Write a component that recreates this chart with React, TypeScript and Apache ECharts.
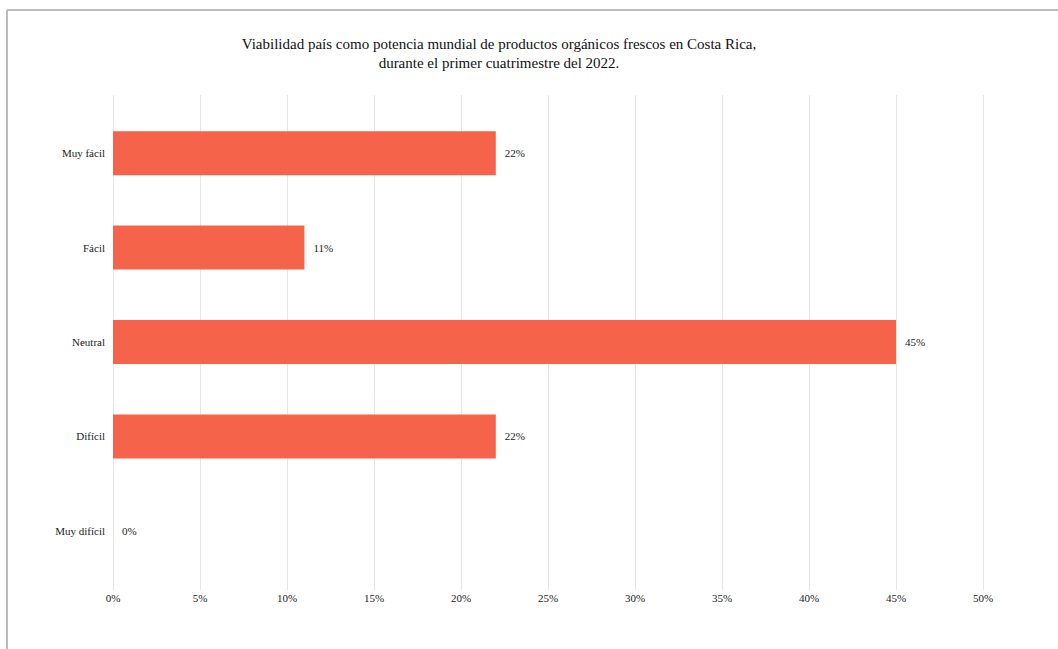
import React, { useEffect, useRef } from "react";
import * as echarts from "echarts";

const categories = ["Muy fácil", "Fácil", "Neutral", "Difícil", "Muy difícil"];
const values = [22, 11, 45, 22, 0];
const xTicks = [0, 5, 10, 15, 20, 25, 30, 35, 40, 45, 50];
const titleText =
  "Viabilidad país como potencia mundial de productos orgánicos frescos en Costa Rica,\ndurante el primer cuatrimestre del 2022.";

const FONT = "'Liberation Serif', 'Times New Roman', serif";

export default function App() {
  const ref = useRef<HTMLDivElement>(null);
  useEffect(() => {
    if (!ref.current) return;
    const chart = echarts.init(ref.current, undefined, { renderer: "svg" });
    const gridColor = "#e6e6e6";
    chart.setOption({
      animation: false,
      backgroundColor: "#ffffff",
      title: {
        text: titleText,
        left: 494,
        textAlign: "center",
        top: 29,
        textStyle: {
          fontFamily: FONT,
          fontSize: 15,
          fontWeight: "normal",
          color: "#111",
          lineHeight: 19,
        },
      },
      grid: { left: 113, right: 75, top: 106, bottom: 71, containLabel: false },
      xAxis: [
        {
          type: "value",
          min: xTicks[0],
          max: xTicks[xTicks.length - 1],
          interval: 5,
          axisLine: { show: false },
          axisTick: { show: true, length: 12, lineStyle: { color: gridColor } },
          splitLine: { show: true, lineStyle: { color: gridColor, width: 1 } },
          axisLabel: {
            formatter: (v: number) => v + "%",
            fontFamily: FONT,
            fontSize: 11,
            color: "#222",
            margin: 14,
          },
        },
        {
          type: "value",
          position: "top",
          min: xTicks[0],
          max: xTicks[xTicks.length - 1],
          interval: 5,
          axisLine: { show: false },
          axisTick: { show: true, length: 11, lineStyle: { color: gridColor } },
          splitLine: { show: false },
          axisLabel: { show: false },
        },
      ],
      yAxis: {
        type: "category",
        data: categories,
        inverse: true,
        axisLine: { show: false },
        axisTick: { show: false },
        axisLabel: {
          fontFamily: FONT,
          fontSize: 11,
          color: "#222",
          margin: 8,
        },
      },
      series: [
        {
          type: "bar",
          data: values,
          barWidth: 44,
          itemStyle: { color: "#F5634A" },
          label: {
            show: true,
            position: "right",
            distance: 9,
            formatter: (p: any) => p.value + "%",
            fontFamily: FONT,
            fontSize: 11,
            color: "#222",
          },
        },
      ],
      graphic: [
        {
          type: "line",
          shape: { x1: 7, y1: 10, x2: 1058, y2: 10 },
          style: { stroke: "#bdbdbd", lineWidth: 2 },
        },
        {
          type: "line",
          shape: { x1: 7, y1: 10, x2: 7, y2: 649 },
          style: { stroke: "#bdbdbd", lineWidth: 2 },
        },
      ],
    });
    return () => chart.dispose();
  }, []);
  return (
    <div
      ref={ref}
      style={{ position: "absolute", left: 0, top: 0, width: 1058, height: 649 }}
    />
  );
}
